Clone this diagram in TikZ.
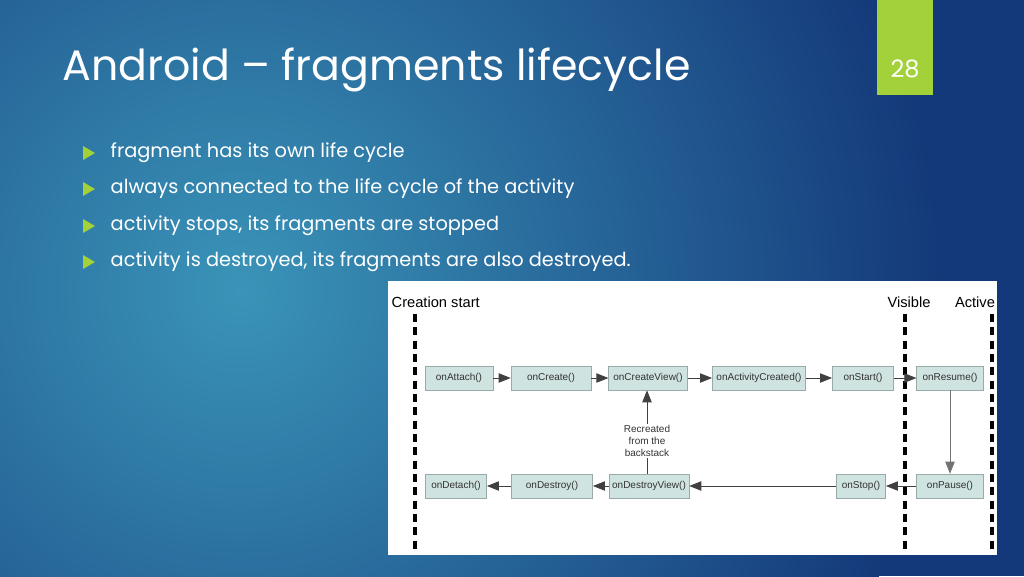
\documentclass[tikz,border=0pt]{standalone}
\usepackage{fontspec}
\setmainfont{Liberation Sans}
\newfontfamily\titlefont{Poppins}
\usetikzlibrary{arrows.meta}
\definecolor{boxfill}{HTML}{CFE3E0}
\definecolor{boxline}{HTML}{98ABA8}
\definecolor{limeg}{HTML}{A3D13A}
\definecolor{bgdark}{HTML}{14397A}
\definecolor{bglight}{HTML}{3A94B8}
\tikzset{
  lc/.style={draw=boxline,fill=boxfill,minimum height=18pt,inner sep=1pt,font=\fontsize{7.5}{9}\selectfont,text=black!80},
  arr/.style={draw=black!75,line width=0.6pt,-{Triangle[length=9pt,width=7pt]}},
  lane/.style={line width=2.6pt,dash pattern=on 6pt off 4pt},
  bul/.style={font=\titlefont\fontsize{14.5}{18}\selectfont,text=white,anchor=west}
}
\begin{document}
\begin{tikzpicture}[x=0.75pt,y=-0.75pt]
\useasboundingbox (0,0) rectangle (1024,576);
\begin{scope}
\clip (0,0) rectangle (1024,576);
\fill[bgdark] (0,0) rectangle (1024,576);
\shade[inner color=bglight,outer color=bgdark] (240,290) circle (700);
\end{scope}
% page number
\fill[limeg] (877,0) rectangle (933,95);
\node[font=\titlefont\fontsize{18}{20}\selectfont,text=white] (pg) at (905,69) {28};
\node[font=\titlefont\fontsize{32}{40}\selectfont,text=white,anchor=west] (title) at (58,70) {Android – fragments lifecycle};
% bullets
\foreach \y/\t [count=\i] in {153/fragment has its own life cycle,189/always connected to the life cycle of the activity,226/activity stops{,} its fragments are stopped,262/activity is destroyed{,} its fragments are also destroyed.}{
  \fill[limeg] (83,\y-7) -- (95,\y) -- (83,\y+7) -- cycle;
  \node[bul] (b\i) at (106,\y) {\t};
}
% diagram
\fill[white] (388,281) rectangle (997,555);
\node[anchor=west,font=\fontsize{11}{13}\selectfont] (cs) at (387,302) {Creation start};
\node[font=\fontsize{11}{13}\selectfont] (vis) at (909,302) {Visible};
\node[font=\fontsize{11}{13}\selectfont] (act) at (975,302) {Active};
\draw[lane] (415,314) -- (415,552);
\draw[lane] (905,314) -- (905,552);
\draw[lane] (992,314) -- (992,552);
\node[lc,minimum width=51pt] (att) at (459,378) {onAttach()};
\node[lc,minimum width=60pt] (cre) at (551,378) {onCreate()};
\node[lc,minimum width=59pt] (cv) at (648,378) {onCreateView()};
\node[lc,minimum width=70pt] (ac) at (759,378) {onActivityCreated()};
\node[lc,minimum width=46pt] (st) at (863,378) {onStart()};
\node[lc,minimum width=50pt] (res) at (950,378) {onResume()};
\node[lc,minimum width=46pt] (det) at (456,486) {onDetach()};
\node[lc,minimum width=61pt] (des) at (552,486) {onDestroy()};
\node[lc,minimum width=60pt] (dv) at (649,486) {onDestroyView()};
\node[lc,minimum width=37pt] (sto) at (861,486) {onStop()};
\node[lc,minimum width=50pt] (pau) at (950,486) {onPause()};
\node[align=center,font=\fontsize{7.5}{9}\selectfont,text=black!80,inner sep=1pt] (rec) at (647,441) {Recreated\\from the\\backstack};
\draw[arr] (att) -- (cre);
\draw[arr] (cre) -- (cv);
\draw[arr] (cv) -- (ac);
\draw[arr] (ac) -- (st);
\draw[arr] (st) -- (res);
\draw[arr,draw=black!55] (res) -- (pau);
\draw[arr] (pau) -- (sto);
\draw[arr] (sto) -- (dv);
\draw[arr] (dv) -- (des);
\draw[arr] (des) -- (det);
\draw[black!75,line width=0.6pt] (dv.north -| rec) -- (rec.south);
\draw[arr] (rec.north) -- (cv.south -| rec);
\end{tikzpicture}
\end{document}
